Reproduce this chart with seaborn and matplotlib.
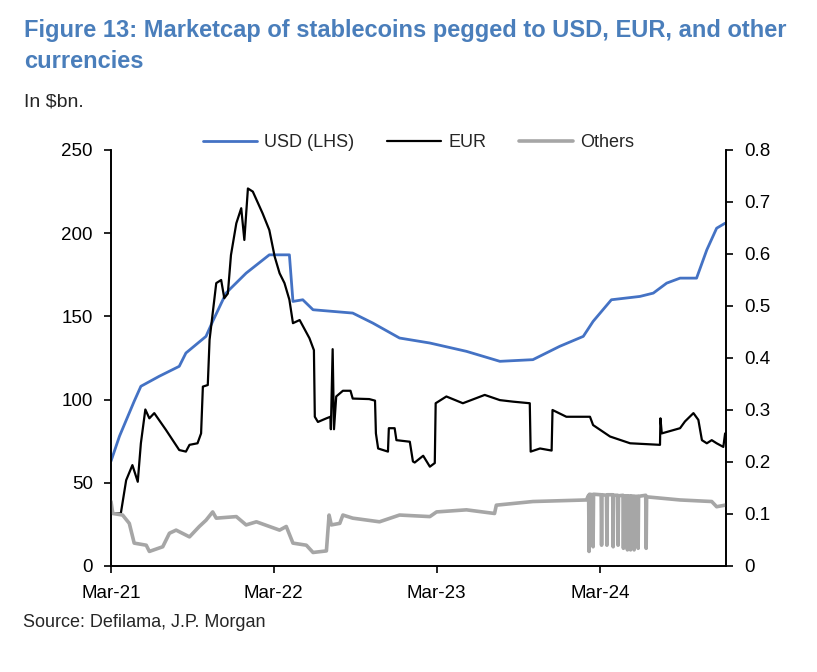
import pandas as pd
import matplotlib
matplotlib.use("Agg")
import matplotlib.pyplot as plt
import matplotlib.dates as mdates
import matplotlib.ticker as mticker
import seaborn as sns

# USD-pegged marketcap, $bn (left axis)
usd_dates = ['2021-03-01', '2021-03-20', '2021-04-11', '2021-04-22', '2021-05-07', '2021-06-17',
             '2021-08-01', '2021-08-16', '2021-09-30', '2021-10-15', '2021-11-14', '2021-11-25',
             '2021-12-29', '2022-02-19', '2022-04-05', '2022-04-13', '2022-05-05', '2022-05-28',
             '2022-08-25', '2022-10-09', '2022-12-08', '2023-02-14', '2023-05-07', '2023-07-21',
             '2023-10-03', '2023-12-02', '2024-01-24', '2024-02-15', '2024-03-27', '2024-05-30',
             '2024-06-29', '2024-07-29', '2024-08-28', '2024-10-04', '2024-10-27', '2024-11-18',
             '2024-12-07']
usd_values = [63, 78, 92, 99, 108, 114, 120, 128, 138, 147, 164, 167,
              176, 187, 187, 159, 160, 154, 152, 146, 137, 134, 129, 123,
              124, 132, 138, 147, 160, 162, 164, 170, 173, 173, 190, 203,
              206]

# EUR-pegged marketcap, $bn (right axis)
eur_dates = ['2021-03-01', '2021-03-23', '2021-04-04', '2021-04-18', '2021-04-30', '2021-05-07',
             '2021-05-17', '2021-05-26', '2021-06-06', '2021-07-02', '2021-08-01', '2021-08-16',
             '2021-08-24', '2021-09-11', '2021-09-19', '2021-09-23', '2021-10-04', '2021-10-08',
             '2021-10-23', '2021-11-03', '2021-11-10', '2021-11-18', '2021-11-25', '2021-12-07',
             '2021-12-18', '2021-12-25', '2022-01-02', '2022-01-13', '2022-02-04', '2022-02-19',
             '2022-03-03', '2022-03-14', '2022-03-25', '2022-04-05', '2022-04-13', '2022-04-28',
             '2022-05-20', '2022-05-30', '2022-06-01', '2022-06-08', '2022-06-27', '2022-07-06',
             '2022-07-07', '2022-07-11', '2022-07-14', '2022-07-19', '2022-08-03', '2022-08-20',
             '2022-08-25', '2022-10-01', '2022-10-14', '2022-10-16', '2022-10-21', '2022-11-12',
             '2022-11-14', '2022-11-27', '2022-12-01', '2022-12-31', '2023-01-07', '2023-01-11',
             '2023-01-30', '2023-02-14', '2023-02-25', '2023-02-27', '2023-03-23', '2023-04-29',
             '2023-06-17', '2023-07-21', '2023-08-20', '2023-09-26', '2023-09-28', '2023-10-19',
             '2023-11-14', '2023-11-16', '2023-12-17', '2024-02-08', '2024-02-15', '2024-03-24',
             '2024-05-08', '2024-07-14', '2024-07-15', '2024-07-18', '2024-08-28', '2024-09-08',
             '2024-09-27', '2024-10-08', '2024-10-16', '2024-10-27', '2024-11-07', '2024-11-18',
             '2024-12-03', '2024-12-07']
eur_values = [0.101, 0.101, 0.165, 0.194, 0.162, 0.236,
              0.301, 0.284, 0.294, 0.262, 0.223, 0.220,
              0.233, 0.236, 0.255, 0.345, 0.348, 0.435,
              0.544, 0.550, 0.515, 0.524, 0.598, 0.659,
              0.688, 0.627, 0.726, 0.720, 0.678, 0.646,
              0.595, 0.563, 0.544, 0.512, 0.467, 0.473,
              0.438, 0.415, 0.287, 0.277, 0.284, 0.287,
              0.263, 0.417, 0.263, 0.326, 0.337, 0.337,
              0.322, 0.321, 0.318, 0.255, 0.226, 0.220,
              0.265, 0.265, 0.242, 0.239, 0.201, 0.199,
              0.212, 0.191, 0.198, 0.313, 0.326, 0.313,
              0.329, 0.319, 0.316, 0.313, 0.220, 0.226,
              0.222, 0.300, 0.287, 0.287, 0.271, 0.249,
              0.236, 0.233, 0.284, 0.255, 0.265, 0.278,
              0.294, 0.281, 0.242, 0.236, 0.242, 0.236,
              0.229, 0.255]

# Other currencies, $bn (right axis)
oth_dates = ['2021-03-01', '2021-03-05', '2021-03-27', '2021-04-11', '2021-04-22', '2021-05-19',
             '2021-05-26', '2021-06-25', '2021-07-10', '2021-07-25', '2021-08-24', '2021-09-15',
             '2021-09-30', '2021-10-15', '2021-10-23', '2021-12-07', '2021-12-29', '2022-01-21',
             '2022-03-14', '2022-03-29', '2022-04-13', '2022-05-13', '2022-05-28', '2022-06-27',
             '2022-07-03', '2022-07-08', '2022-07-27', '2022-08-03', '2022-08-25', '2022-10-24',
             '2022-12-08', '2023-02-14', '2023-03-01', '2023-05-07', '2023-07-09', '2023-07-13',
             '2023-10-03', '2024-01-31',
             '2024-02-05', '2024-02-06', '2024-02-07', '2024-02-14', '2024-02-15', '2024-02-16',
             '2024-03-04', '2024-03-05', '2024-03-06', '2024-03-16', '2024-03-17', '2024-03-18',
             '2024-03-30', '2024-03-31', '2024-04-01', '2024-04-10', '2024-04-11', '2024-04-12',
             '2024-04-22', '2024-04-23', '2024-04-24', '2024-05-01', '2024-05-02', '2024-05-03',
             '2024-05-08', '2024-05-09', '2024-05-10', '2024-05-16', '2024-05-17', '2024-05-18',
             '2024-05-25', '2024-05-26', '2024-05-27', '2024-06-12', '2024-06-13', '2024-06-14',
             '2024-08-28', '2024-11-07', '2024-11-18', '2024-12-07']
oth_values = [0.124, 0.101, 0.098, 0.082, 0.044, 0.040,
              0.028, 0.037, 0.063, 0.069, 0.056, 0.076,
              0.088, 0.104, 0.092, 0.095, 0.079, 0.085,
              0.069, 0.076, 0.044, 0.040, 0.026, 0.029,
              0.098, 0.079, 0.082, 0.098, 0.092, 0.085,
              0.098, 0.095, 0.104, 0.108, 0.101, 0.117,
              0.124, 0.127,
              0.136, 0.028, 0.138, 0.137, 0.037, 0.138,
              0.137, 0.040, 0.137, 0.136, 0.040, 0.137,
              0.137, 0.037, 0.136, 0.136, 0.040, 0.135,
              0.136, 0.034, 0.135, 0.135, 0.031, 0.135,
              0.134, 0.031, 0.135, 0.134, 0.031, 0.134,
              0.134, 0.034, 0.134, 0.136, 0.034, 0.133,
              0.127, 0.124, 0.114, 0.117]

usd_color = '#4472C4'
oth_color = '#A6A6A6'
title_color = '#4A7EBB'

sns.set_style("white")
plt.rcParams['font.family'] = ['Liberation Sans', 'DejaVu Sans']
plt.rcParams['font.size'] = 13

fig = plt.figure(figsize=(8.17, 6.72), dpi=100)
ax = fig.add_axes([111 / 817, 1 - 566 / 672, 615 / 817, 416 / 672])
ax2 = ax.twinx()

sns.lineplot(x=pd.to_datetime(usd_dates), y=usd_values, ax=ax, color=usd_color, lw=2.0, label='USD (LHS)', legend=False)
sns.lineplot(x=pd.to_datetime(eur_dates), y=eur_values, ax=ax2, color='black', lw=1.6, label='EUR', legend=False)
sns.lineplot(x=pd.to_datetime(oth_dates), y=oth_values, ax=ax2, color=oth_color, lw=2.6, label='Others', legend=False)

ax.set_xlim(pd.Timestamp('2021-03-01'), pd.Timestamp('2024-12-09'))
ax.set_ylim(0, 250)
ax2.set_ylim(0, 0.8)
ax.set_yticks(range(0, 251, 50))
ax2.set_yticks([i / 10 for i in range(9)])
ax2.yaxis.set_major_formatter(mticker.FuncFormatter(lambda v, p: f'{v:g}'))
ax.set_xticks(pd.to_datetime(['2021-03-01', '2022-03-01', '2023-03-01', '2024-03-01']))
ax.xaxis.set_major_formatter(mdates.DateFormatter('%b-%y'))
ax.set_xlabel('')
ax.set_ylabel('')
ax2.set_ylabel('')

for a in (ax, ax2):
    a.spines['top'].set_visible(False)
    for s in ('left', 'right', 'bottom'):
        a.spines[s].set_color('black')
        a.spines[s].set_linewidth(1.2)
    a.tick_params(direction='out', length=5, width=1.2, colors='black', labelsize=13.5)
ax.tick_params(axis='y', left=True, pad=8)
ax2.tick_params(axis='y', right=True, pad=8)
ax.tick_params(axis='x', bottom=True, pad=9)

handles = ax.get_lines()[:1] + ax2.get_lines()[:2]
ax2.legend(handles, ['USD (LHS)', 'EUR', 'Others'], loc='center', bbox_to_anchor=(0.5, 1.017),
           ncol=3, frameon=False, handlelength=3.0, columnspacing=1.8, handletextpad=0.4, fontsize=13)

fig.text(0.029, 1 - 37 / 672, 'Figure 13: Marketcap of stablecoins pegged to USD, EUR, and other',
         ha='left', va='baseline', fontsize=17, fontweight='bold', color=title_color)
fig.text(0.029, 1 - 68 / 672, 'currencies',
         ha='left', va='baseline', fontsize=17, fontweight='bold', color=title_color)
fig.text(0.029, 1 - 106 / 672, 'In $bn.', ha='left', va='baseline', fontsize=14)
fig.text(0.028, 1 - 627 / 672, 'Source: Defilama, J.P. Morgan', ha='left', va='baseline', fontsize=13)

fig.savefig('out.png', dpi=100)
